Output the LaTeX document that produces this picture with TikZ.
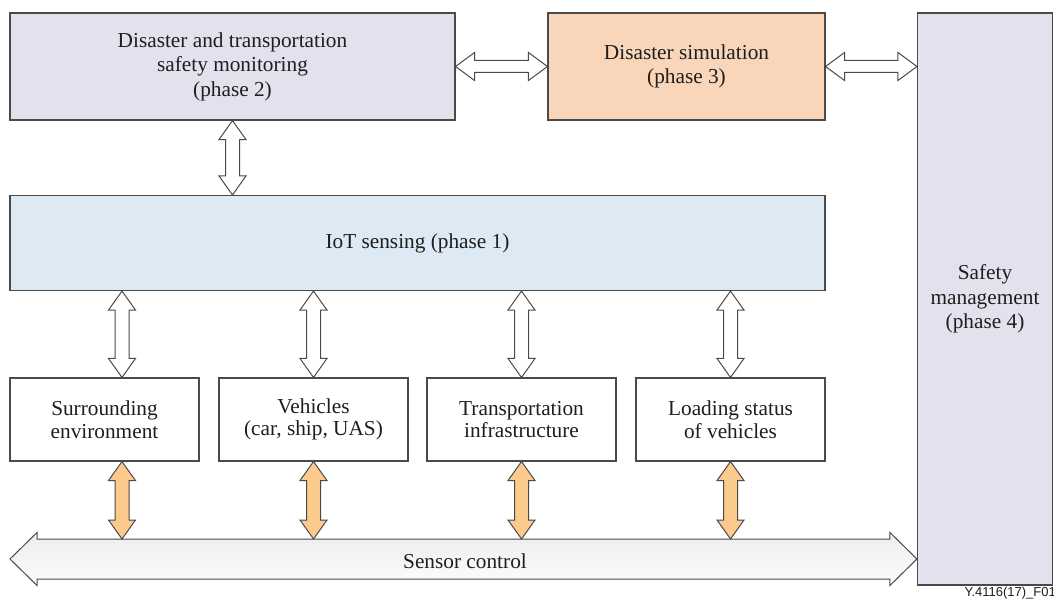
\documentclass[tikz,border=0pt]{standalone}
\usepackage{fontspec}
\setmainfont{Liberation Serif}
\newfontfamily\labelfont{Liberation Sans}
\usetikzlibrary{calc}

\definecolor{lav}{HTML}{E4E1EE}
\definecolor{peach}{HTML}{F9D6B9}
\definecolor{iotblue}{HTML}{DEEAF3}
\definecolor{orangearrow}{HTML}{FCCA8C}
\definecolor{edge}{HTML}{4A4A4A}
\definecolor{ink}{HTML}{1E1E1E}

% vertical double block arrow: fill, x, top point, bottom point
\newcommand\vfat[4]{\draw[fat,fill=#1] let \p1=#3, \p2=#4 in
  (#2pt,\y1) -- ++(13.5pt,-19pt) -- ++(-6.5pt,0pt) -- (#2pt+7pt,\y2+19pt)
  -- ++(6.5pt,0pt) -- (#2pt,\y2) -- ++(-13.5pt,19pt) -- ++(6.5pt,0pt)
  -- (#2pt-7pt,\y1-19pt) -- ++(-6.5pt,0pt) -- cycle;}
% horizontal double block arrow: left point, right point
\newcommand\hfat[2]{\draw[fat,fill=white] let \p1=#1, \p2=#2 in
  (\x1,\y1) -- ++(19pt,14pt) -- ++(0pt,-8pt) -- (\x2-19pt,\y1+6pt)
  -- ++(0pt,8pt) -- (\x2,\y1) -- ++(-19pt,-14pt) -- ++(0pt,8pt)
  -- (\x1+19pt,\y1-6pt) -- ++(0pt,-8pt) -- cycle;}

\begin{document}
\begin{tikzpicture}[x=1pt,y=-1pt,
  box/.style={draw=edge, line width=1.1pt, rectangle, inner sep=0pt,
    align=center, text=ink, font=\fontsize{21.3}{24.5}\selectfont},
  small/.style={box, fill=white, minimum width=189pt, minimum height=83pt,
    font=\fontsize{21.3}{22.5}\selectfont},
  fat/.style={draw=edge, line width=1pt, line join=miter}]
\useasboundingbox (0,0) rectangle (1054,601);

% phase blocks
\node[box, fill=lav, minimum width=445pt, minimum height=107pt] (mon) at (232.5,66.5)
  {Disaster and transportation\\safety monitoring\\(phase 2)};
\node[box, fill=peach, minimum width=277pt, minimum height=107pt] (sim) at (686.5,66.5)
  {Disaster simulation\\(phase 3)};
\node[box, fill=lav, minimum width=135pt, minimum height=572pt] (safe) at (985,299)
  {Safety\\management\\(phase 4)};
\node[box, fill=iotblue, minimum width=815pt, minimum height=95pt] (iot) at (417.5,243)
  {IoT sensing (phase 1)};

% sensed objects
\node[small] (env) at (104.5,419.5) {Surrounding\\environment};
\node[small] (veh) at (313.5,419.5) {Vehicles\\(car, ship, UAS)};
\node[small] (inf) at (521.5,419.5) {Transportation\\infrastructure};
\node[small] (load) at (730.5,419.5) {Loading status\\of vehicles};

% links between phases
\hfat{(mon.east)}{(sim.west)}
\hfat{(sim.east)}{(sim.east -| safe.west)}
\vfat{white}{232.5}{(mon.south)}{(iot.north)}

% links from IoT sensing to the sensed objects
\vfat{white}{122}{(iot.south)}{(env.north)}
\vfat{white}{313.5}{(iot.south)}{(veh.north)}
\vfat{white}{521.5}{(iot.south)}{(inf.north)}
\vfat{white}{730.5}{(iot.south)}{(load.north)}

% sensor control bus
\coordinate (busL) at (10,559);
\coordinate (bustop) at (0,539);
\draw[fat, top color=gray!14, bottom color=gray!2] let \p1=(busL), \p2=(busL -| safe.west) in
  (\x1,\y1) -- ++(27pt,26.5pt) -- ++(0pt,-6.5pt) -- (\x2-27pt,\y1+20pt)
  -- ++(0pt,6.5pt) -- (\x2,\y1) -- ++(-27pt,-26.5pt) -- ++(0pt,6.5pt)
  -- (\x1+27pt,\y1-20pt) -- ++(0pt,-6.5pt) -- cycle;
\node[text=ink, font=\fontsize{21.3}{24}\selectfont] (bus) at (465,561) {Sensor control};

\vfat{orangearrow}{122}{(env.south)}{(bustop)}
\vfat{orangearrow}{313.5}{(veh.south)}{(bustop)}
\vfat{orangearrow}{521.5}{(inf.south)}{(bustop)}
\vfat{orangearrow}{730.5}{(load.south)}{(bustop)}

\node[anchor=east, inner sep=0pt, text=ink, font=\labelfont\fontsize{13}{14}\selectfont] (fig) at (1056,593) {Y.4116(17)\_F01};
\end{tikzpicture}
\end{document}
